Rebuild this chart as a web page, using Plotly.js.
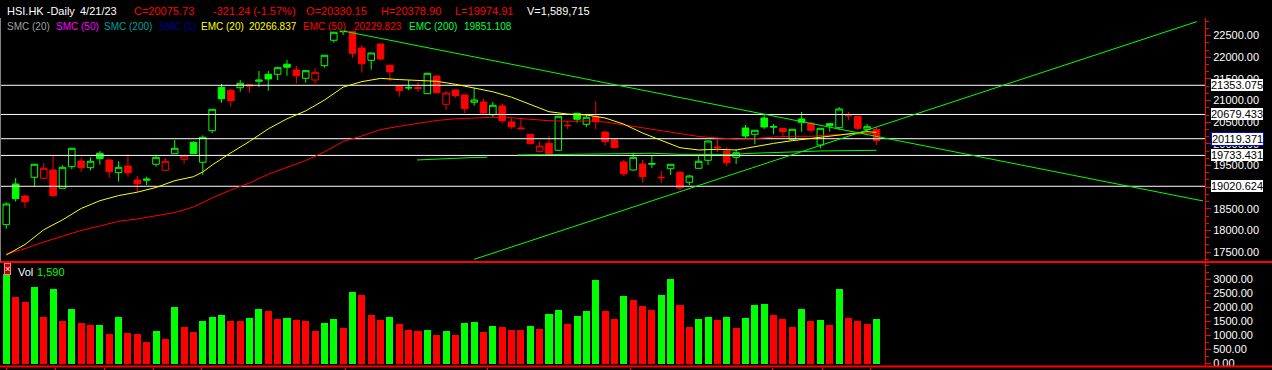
<!DOCTYPE html>
<html><head><meta charset="utf-8">
<script src="https://cdn.plot.ly/plotly-3.0.1.min.js"></script>
<style>html,body{margin:0;padding:0;background:#000;}#chart{width:1272px;height:370px;}</style>
</head><body><div id="chart"></div>
<script>
// ---------- data ----------
const ticker = "HSI.HK -Daily";
const lastDate = "4/21/23";

const open  = [18134,19074,18796,19228,19205,19397,18974,19473,19605,19450,
               19783,19628,19335,19489,19166,19159,19529,19390,19773,19644,
               20037,19575,20305,21307,21238,21298,21367,21445,21607,21607,
               21840,21706,21515,21475,21806,22393,22590,22591,22214,21930,
               22307,21815,21344,21290,21300,21159,21568,20914,21244,21129,
               20960,20967,20674,20875,20508,20367,20221,19829,20013,19852,
               20429,20706,20452,20628,20274,20090,19582,19397,19536,19530,
               19230,19427,19344,19113,19436,19621,19930,19836,19690,20367,
               20221,20598,20385,20360,20106,20575,20482,19974,20466,20374,
               20660,20637,20337,20330.15];
const high  = [18650,19212,18820,19540,19559,19720,19505,19905,19690,19690,
               19836,19640,19598,19759,19258,19242,19713,19674,20090,19722,
               20060,20198,20805,21383,21268,21475,21380,21683,21683,21783,
               21937,21799,21695,21746,22050,22590,22607,22600,22284,22105,
               22310,21820,21350,21475,21429,21640,21580,21221,21250,21135,
               21298,21044,20967,20937,20605,20591,20225,20060,20182,20645,
               20535,20710,20667,20983,20280,20120,19628,19796,19628,19720,
               19374,19535,19374,19281,19743,20072,20106,19921,19875,20436,
               20320,20667,20459,20365,20340,20736,20490,20365,20475,20852,
               20736,20645,20459,20378.90];
const low   = [18040,18665,18526,19027,19200,18780,18970,19413,19358,19390,
               19519,19219,19127,19242,18882,19050,19473,19385,19770,19542,
               19770,19288,20244,20951,20859,21205,21182,21314,21228,21475,
               21575,21399,21413,21390,21759,22337,22515,21990,21644,21713,
               21937,21452,21090,21244,21198,21150,21168,20783,21067,20713,
               20882,20683,20614,20475,20344,20345,20000,19797,19770,19845,
               20337,20489,20390,20344,19958,19905,19258,19381,19104,19436,
               19097,19281,18935,19050,19430,19512,19806,19489,19535,20129,
               19990,20344,20221,20166,20100,20281,20258,19898,20281,20314,
               20552,20314,20281,19974.91];
const close = [18612,18734,18665,19529,19436,18803,19459,19898,19450,19598,
               19658,19358,19459,19335,19080,19189,19690,19598,19898,19720,
               19773,20152,20799,21044,20997,21399,21337,21475,21498,21759,
               21770,21575,21690,21653,22046,22577,22600,22092,21852,22099,
               21960,21667,21228,21300,21285,21630,21182,21175,21113,20813,
               21013,20713,20891,20535,20393,20351,20004,19951,19773,20637,
               20420,20568,20614,20522,20051,19912,19311,19690,19242,19545,
               19220,19529,18981,19258,19598,20067,19915,19565,19796,20182,
               20314,20390,20400,20281,20337,20499,20314,20360,20420,20806,
               20650,20360,20396.97,20075.73];
// volume in thousands
const volume = [3190,2366,2186,2724,1649,2652,1505,1935,1434,1360,
                1380,1039,1649,1075,1039,752,1147,860,2007,1290,
                1111,1505,1649,1720,1510,1500,1613,1935,1864,1600,
                1620,1541,1505,1147,1434,1577,1254,2545,2437,1720,
                1541,1649,1398,1183,1147,1183,1003,1147,1003,1434,
                1470,1111,1326,1290,1190,1180,1326,1218,1756,1900,
                1398,1684,1864,2975,1864,1577,2401,2258,2043,1900,
                2437,3011,2079,1290,1577,1649,1541,1649,1254,1613,
                2079,2115,1720,1577,1290,1935,1530,1545,1362,2652,
                1613,1505,1398,1589.715];

const ema20Bars = [1,3,5,7,9,11,13,15,17,19,21,22,23,24,25,27,29,31,33,35,37,39,41,43,45,47,49,51,53,55,57,59,61,63,65,67,69,71,73,75,77,79,81,83,85,87,89,91,93,94];
const ema20Vals = [17434,17676,18016,18244,18508,18688,18806,18884,18993,19150,19242,19351,19512,19658,19794,20057,20346,20579,20762,21011,21311,21438,21512,21485,21468,21445,21376,21293,21203,21078,20910,20743,20688,20667,20598,20455,20251,20076,19912,19859,19875,19859,19940,20011,20074,20127,20182,20242,20281,20266.837];

const ema50Bars = [1,3,5,7,9,11,13,15,17,19,21,23,25,27,29,31,33,35,37,39,41,43,45,47,49,51,53,55,57,59,61,63,65,67,69,71,73,75,77,79,81,83,85,87,89,91,93,94];
const ema50Vals = [17457,17579,17734,17873,18000,18104,18212,18265,18346,18415,18542,18750,18935,19097,19298,19466,19616,19813,20055,20182,20332,20406,20471,20540,20579,20605,20614,20603,20563,20535,20522,20529,20505,20436,20367,20298,20228,20171,20136,20113,20120,20159,20175,20175,20205,20228,20237,20229.823];

const ema200Bars = [44.9,48,51,52.4,54,55.6,58,61,64,67,70,73,76,79,80,83,85,88,91,94];
const ema200Vals = [19628,19662,19686,19690,null,19743,19750,19759,19778,19783,19783,19760,19750,19755,19778,19790,19813,19836,19847,19851.108];

// drawn trend lines (bar position, price)
const trendDownBars = [37, 128.9];
const trendDownVals = [22607, 18682];
const trendUpBars   = [51, 128.25];
const trendUpVals   = [17334, 22824];

// horizontal level lines
const levels = [21353.075, 20679.433, 20119.371, 19733.431, 19020.624];
const highlightedLevel = 20119.371;

// axis tick values
const priceTicks = [17500,18000,18500,19000,19500,20000,20500,21000,21500,22000,22500];
const volTicks = [0,500,1000,1500,2000,2500,3000];
// small date ticks on the bottom axis (bar positions)
const xTickBars = [0.97, 6.21, 11.47, 16.71, 21.88, 37.2, 52.41, 67.69, 82.9, 88.21, 93.41];

// ---------- build ----------
const GREEN = '#00ff00', RED = '#ff0000', YEL = '#ffff00';
const N = close.length;
const bars = Array.from({length:N}, (_, i) => i + 1);

const W = 1272, H = 370, PW = 1205;
const px = v => v / PW;
const py = v => 1 - v / H;

const gIdx = [], rIdx = [];
for (let i = 0; i < N; i++) {
  if (i === 0 || close[i] >= close[i-1]) gIdx.push(i); else rIdx.push(i);
}
function candle(idx, color) {
  return {
    type:'candlestick', xaxis:'x', yaxis:'y',
    x: idx.map(i => bars[i]),
    open: idx.map(i => open[i]), high: idx.map(i => high[i]),
    low: idx.map(i => low[i]), close: idx.map(i => close[i]),
    increasing:{line:{color:color, width:1}, fillcolor:'rgba(0,0,0,0)'},
    decreasing:{line:{color:color, width:1}, fillcolor:color},
    whiskerwidth:0, hoverinfo:'skip', showlegend:false
  };
}
const volColors = volume.map((v, i) => (i === 0 || v > volume[i-1]) ? GREEN : RED);

const traces = [];
traces.push(candle(gIdx, GREEN));
traces.push(candle(rIdx, RED));
levels.forEach(v => traces.push({type:'scatter', mode:'lines', x:[0, 200], y:[v, v],
  line:{color:'#ffffff', width:1}, hoverinfo:'skip', xaxis:'x', yaxis:'y'}));
traces.push({type:'scatter', mode:'lines', x:ema200Bars, y:ema200Vals, connectgaps:false,
  line:{color:GREEN, width:1}, hoverinfo:'skip', xaxis:'x', yaxis:'y'});
traces.push({type:'scatter', mode:'lines', x:ema50Bars, y:ema50Vals,
  line:{color:RED, width:1}, hoverinfo:'skip', xaxis:'x', yaxis:'y'});
traces.push({type:'scatter', mode:'lines', x:ema20Bars, y:ema20Vals,
  line:{color:YEL, width:1}, hoverinfo:'skip', xaxis:'x', yaxis:'y'});
traces.push({type:'scatter', mode:'lines', x:trendDownBars, y:trendDownVals,
  line:{color:GREEN, width:1}, hoverinfo:'skip', xaxis:'x', yaxis:'y'});
traces.push({type:'scatter', mode:'lines', x:trendUpBars, y:trendUpVals,
  line:{color:GREEN, width:1}, hoverinfo:'skip', xaxis:'x', yaxis:'y'});
traces.push({type:'bar', x:bars, y:volume, width:0.75, marker:{color:volColors, line:{width:0}},
  hoverinfo:'skip', xaxis:'x', yaxis:'y2'});

// header text derived from data
const L = N - 1;
const chg = close[L] - close[L-1];
const pct = chg / close[L-1] * 100;
const FONT = 'Liberation Sans, Arial, sans-serif';
const ann = [];
function txt(x, y, text, color, size) {
  ann.push({xref:'paper', yref:'paper', x:px(x), y:py(y), xanchor:'left', yanchor:'middle',
    text:text, showarrow:false, font:{family:FONT, size:size || 11, color:color}});
}
txt(5, 10.5, ticker, '#ffffff');
txt(78, 10.5, lastDate, '#ffffff');
txt(132, 10.5, 'C=' + close[L].toFixed(2), RED);
txt(211, 10.5, chg.toFixed(2) + ' (' + pct.toFixed(2) + '%)', RED);
txt(304, 10.5, 'O=' + open[L].toFixed(2), RED);
txt(379, 10.5, 'H=' + high[L].toFixed(2), RED);
txt(453, 10.5, 'L=' + low[L].toFixed(2), RED);
txt(525, 10.5, 'V=' + Math.round(volume[L] * 1000).toLocaleString('en-US'), '#ffffff');

const S2 = 10;
txt(5, 26.5, 'SMC (20)', '#a0a0a0', S2);
txt(54, 26.5, 'SMC (50)', '#ff00ff', S2);
txt(102, 26.5, 'SMC (200)', '#00a0a0', S2);
txt(157, 26.5, 'SMC (1)', '#0000a0', S2);
txt(199, 26.5, 'EMC (20)', YEL, S2);
txt(247, 26.5, ema20Vals[ema20Vals.length-1].toFixed(3), YEL, S2);
txt(301, 26.5, 'EMC (50)', RED, S2);
txt(352, 26.5, ema50Vals[ema50Vals.length-1].toFixed(3), RED, S2);
txt(407, 26.5, 'EMC (200)', '#00ff40', S2);
txt(462, 26.5, ema200Vals[ema200Vals.length-1].toFixed(3), '#00ff40', S2);

txt(16, 272, 'Vol', '#ffffff');
txt(35, 272, Math.round(volume[L]).toLocaleString('en-US'), GREEN);

// level labels on the right axis
levels.forEach(v => {
  const hl = v === highlightedLevel;
  ann.push({xref:'paper', yref:'y', x:px(1211), y:v, xanchor:'left', yanchor:'middle',
    text:v.toFixed(3), showarrow:false, bgcolor:'#ffffff', borderpad:0,
    bordercolor: hl ? '#0000ff' : '#ffffff', borderwidth: hl ? 1 : 0,
    font:{family:FONT, size:11, color:'#000000'}});
});
// close icon of volume pane
ann.push({xref:'paper', yref:'paper', x:px(7.5), y:py(268.5), xanchor:'center', yanchor:'middle',
  text:'×', showarrow:false, bgcolor:'#c00000', bordercolor:'#ff8080', borderwidth:1, borderpad:0,
  font:{family:FONT, size:9, color:'#ffffff'}});

const shapes = [
  {type:'line', xref:'paper', yref:'paper', x0:0, x1:W/PW, y0:py(262), y1:py(262), line:{color:RED, width:2}},
  {type:'line', xref:'paper', yref:'paper', x0:0, x1:W/PW, y0:py(366.5), y1:py(366.5), line:{color:RED, width:2}},
  {type:'line', xref:'paper', yref:'paper', x0:px(0.5), x1:px(0.5), y0:py(18), y1:py(262), line:{color:'#808080', width:1}}
];

const axFont = {family:FONT, size:11, color:'#ffffff'};
const layout = {
  width:W, height:H,
  margin:{l:0, r:W-PW, t:0, b:0, pad:0},
  paper_bgcolor:'#000000', plot_bgcolor:'#000000',
  showlegend:false, hovermode:false, dragmode:false,
  boxgap:0.3, boxgroupgap:0,
  bargap:0,
  xaxis:{range:[0.327, 129.11], anchor:'y2', showgrid:false, zeroline:false, showticklabels:false,
    tickmode:'array', tickvals:xTickBars, ticks:'outside', ticklen:4, tickcolor:RED, tickwidth:1,
    showline:false, rangeslider:{visible:false}, fixedrange:true},
  yaxis:{domain:[py(262), py(18)], range:[17272, 22907], side:'right', anchor:'x',
    showgrid:false, zeroline:false, showline:true, linecolor:RED, linewidth:1,
    tickmode:'array', tickvals:priceTicks, ticktext:priceTicks.map(v => v.toFixed(2)),
    ticks:'outside', ticklen:5, tickcolor:RED, tickwidth:1,
    tickfont:axFont, minor:{tick0:0, dtick:500/3, ticks:'outside', ticklen:3, tickcolor:RED, showgrid:false},
    fixedrange:true},
  yaxis2:{domain:[py(366.5), py(263)], range:[-107, 3584], side:'right', anchor:'x',
    showgrid:false, zeroline:false, showline:true, linecolor:RED, linewidth:1,
    tickmode:'array', tickvals:volTicks, ticktext:volTicks.map(v => v.toFixed(2)),
    ticks:'outside', ticklen:5, tickcolor:RED, tickwidth:1,
    tickfont:axFont, minor:{tick0:0, dtick:250, ticks:'outside', ticklen:3, tickcolor:RED, showgrid:false},
    fixedrange:true},
  annotations:ann, shapes:shapes
};
Plotly.newPlot('chart', traces, layout, {staticPlot:true, displayModeBar:false});
</script>
</body></html>
